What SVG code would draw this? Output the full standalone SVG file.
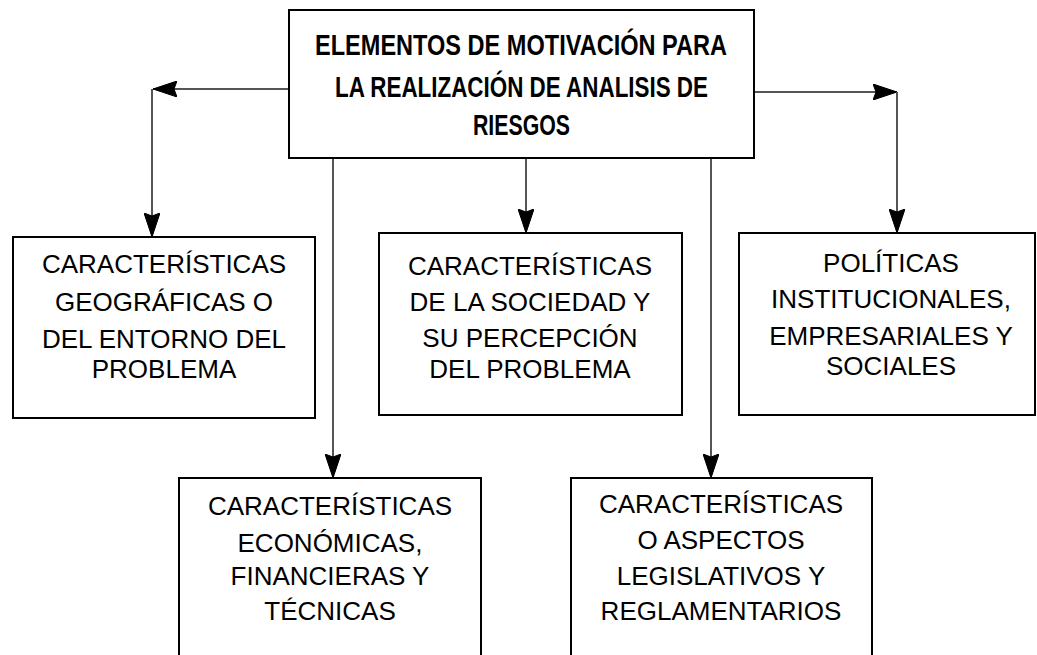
<svg xmlns="http://www.w3.org/2000/svg" width="1037" height="655" viewBox="0 0 1037 655">
  <style>
    .box { fill: #ffffff; stroke: #000000; stroke-width: 2; }
    .t { font-family: "Liberation Sans", Arial, sans-serif; font-size: 26px; fill: #000000; text-anchor: middle; }
    .title { font-family: "Liberation Sans", Arial, sans-serif; font-size: 29px; font-weight: bold; fill: #000000; }
    .conn { stroke: #555555; stroke-width: 2; fill: none; }
    .head { fill: #000000; stroke: #000000; stroke-width: 1; }
  </style>
  <defs>
    <marker id="arr" viewBox="0 0 24 16" refX="24" refY="8" markerWidth="24" markerHeight="16" markerUnits="userSpaceOnUse" orient="auto">
      <path class="head" d="M0,0 L24,8 L0,16 L3,8 z"/>
    </marker>
  </defs>
  <rect width="1037" height="655" fill="#ffffff"/>

  <g id="connectors">
    <line class="conn" x1="289" y1="89" x2="153" y2="89" marker-end="url(#arr)"/>
    <line class="conn" x1="152" y1="89" x2="152" y2="237" marker-end="url(#arr)"/>
    <line class="conn" x1="754" y1="92" x2="897" y2="92" marker-end="url(#arr)"/>
    <line class="conn" x1="897" y1="92" x2="897" y2="233" marker-end="url(#arr)"/>
    <line class="conn" x1="526" y1="158" x2="526" y2="233" marker-end="url(#arr)"/>
    <line class="conn" x1="333" y1="158" x2="333" y2="478" marker-end="url(#arr)"/>
    <line class="conn" x1="711" y1="158" x2="711" y2="478" marker-end="url(#arr)"/>
  </g>

  <g id="title">
    <rect class="box" x="289" y="10" width="465" height="148"/>
    <text class="title" x="315" y="55" textLength="412" lengthAdjust="spacingAndGlyphs">ELEMENTOS DE MOTIVACIÓN PARA</text>
    <text class="title" x="335" y="97" textLength="373" lengthAdjust="spacingAndGlyphs">LA REALIZACIÓN DE ANALISIS DE</text>
    <text class="title" x="473" y="135" textLength="97" lengthAdjust="spacingAndGlyphs">RIESGOS</text>
  </g>

  <g id="geo">
    <rect class="box" x="13" y="237" width="302" height="181"/>
    <text class="t" x="164" y="273">CARACTERÍSTICAS</text>
    <text class="t" x="164" y="311">GEOGRÁFICAS O</text>
    <text class="t" x="164" y="348">DEL ENTORNO DEL</text>
    <text class="t" x="164" y="378">PROBLEMA</text>
  </g>

  <g id="sociedad">
    <rect class="box" x="379" y="233" width="303" height="182"/>
    <text class="t" x="530" y="275">CARACTERÍSTICAS</text>
    <text class="t" x="530" y="311">DE LA SOCIEDAD Y</text>
    <text class="t" x="530" y="347">SU PERCEPCIÓN</text>
    <text class="t" x="530" y="378">DEL PROBLEMA</text>
  </g>

  <g id="politicas">
    <rect class="box" x="739" y="233" width="296" height="182"/>
    <text class="t" x="891" y="272">POLÍTICAS</text>
    <text class="t" x="891" y="308">INSTITUCIONALES,</text>
    <text class="t" x="891" y="345">EMPRESARIALES Y</text>
    <text class="t" x="891" y="375">SOCIALES</text>
  </g>

  <g id="economicas">
    <rect class="box" x="179" y="478" width="302" height="190"/>
    <text class="t" x="330" y="515">CARACTERÍSTICAS</text>
    <text class="t" x="330" y="552">ECONÓMICAS,</text>
    <text class="t" x="330" y="585">FINANCIERAS Y</text>
    <text class="t" x="330" y="620">TÉCNICAS</text>
  </g>

  <g id="legislativos">
    <rect class="box" x="571" y="478" width="301" height="190"/>
    <text class="t" x="721" y="513">CARACTERÍSTICAS</text>
    <text class="t" x="721" y="549">O ASPECTOS</text>
    <text class="t" x="721" y="585">LEGISLATIVOS Y</text>
    <text class="t" x="721" y="620">REGLAMENTARIOS</text>
  </g>
</svg>
